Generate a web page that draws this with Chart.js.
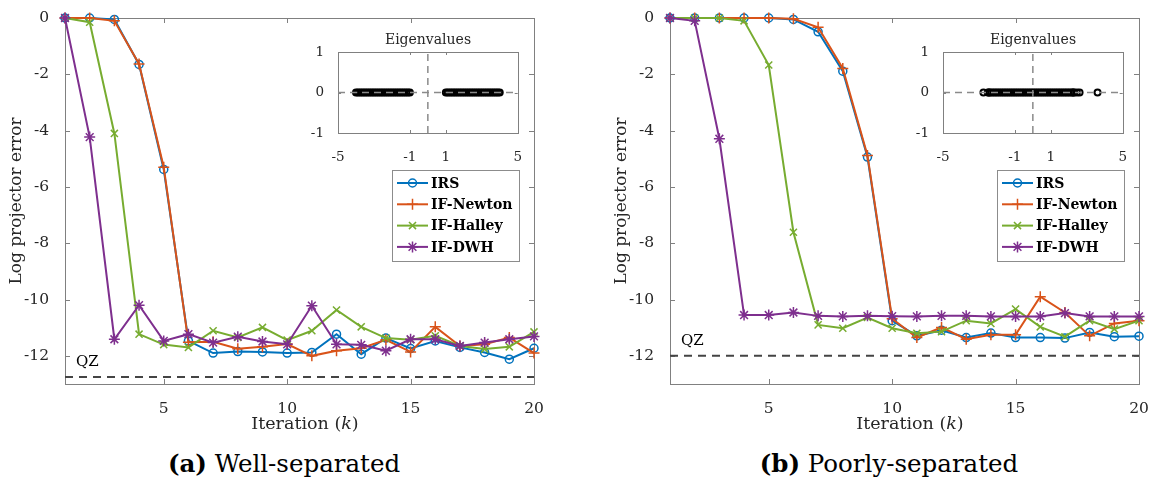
<!DOCTYPE html>
<html>
<head>
  <title>Projector error</title>
  <script src="https://cdn.jsdelivr.net/npm/chart.js"></script>
  <style>
    body { margin: 0; background: #fff; font-family: 'DejaVu Serif', serif; color: #262626; }
    .panel { position: absolute; top: 0; width: 560px; height: 485px; }
    .main { position: absolute; left: 0; top: 0; }
    .inset { position: absolute; left: 305px; top: 28px; }
    .eigTitle { position: absolute; left: 337px; top: 31px; width: 182px; text-align: center; font-size: 14px; }
    .xlabel { position: absolute; left: 65px; width: 480px; top: 413px; text-align: center; font-size: 17.5px; }
    .caption { position: absolute; left: 0; width: 568px; top: 449px; text-align: center; font-size: 24.5px; color: #000; }
  </style>
</head>
<body>
  <div class="panel" style="left:0px">
    <canvas id="mainA" class="main" width="560" height="440"></canvas>
    <canvas id="insetA" class="inset" width="225" height="135"></canvas>
    <div class="eigTitle">Eigenvalues</div>
    <div class="xlabel">Iteration (<i>k</i>)</div>
    <div class="caption"><b>(a)</b> Well-separated</div>
  </div>
  <div class="panel" style="left:605px">
    <canvas id="mainB" class="main" width="560" height="440"></canvas>
    <canvas id="insetB" class="inset" width="225" height="135"></canvas>
    <div class="eigTitle">Eigenvalues</div>
    <div class="xlabel">Iteration (<i>k</i>)</div>
    <div class="caption"><b>(b)</b> Poorly-separated</div>
  </div>
  <script>
    // iterations 1..20
    const iters = [1, 2, 3, 4, 5, 6, 7, 8, 9, 10, 11, 12, 13, 14, 15, 16, 17, 18, 19, 20];
    const xTicks = [5, 10, 15, 20];
    const yTicks = [0, -2, -4, -6, -8, -10, -12];

    // (a) well-separated
    const irsA    = [0, 0, -0.05, -1.65, -5.38, -11.47, -11.9, -11.85, -11.86, -11.9, -11.88, -11.23, -11.94, -11.37, -11.74, -11.47, -11.7, -11.88, -12.12, -11.73];
    const newtonA = [0, 0, -0.1, -1.63, -5.3, -11.52, -11.5, -11.75, -11.68, -11.58, -12.0, -11.82, -11.73, -11.43, -11.86, -10.97, -11.65, -11.59, -11.35, -11.9];
    const halleyA = [0, -0.15, -4.1, -11.23, -11.6, -11.7, -11.11, -11.35, -10.99, -11.44, -11.11, -10.37, -10.97, -11.37, -11.43, -11.29, -11.65, -11.76, -11.68, -11.15];
    const dwhA    = [0, -4.23, -11.41, -10.2, -11.47, -11.23, -11.53, -11.32, -11.49, -11.59, -10.22, -11.59, -11.61, -11.82, -11.41, -11.41, -11.65, -11.53, -11.41, -11.31];
    const qzA = -12.75;

    // (b) poorly-separated
    const irsB    = [0, 0, 0, 0, 0, -0.05, -0.49, -1.89, -4.94, -10.75, -11.29, -11.09, -11.35, -11.19, -11.35, -11.35, -11.37, -11.17, -11.32, -11.3];
    const newtonB = [0, 0, 0, 0, 0, -0.03, -0.33, -1.79, -4.88, -10.68, -11.35, -10.99, -11.41, -11.25, -11.25, -9.9, -10.46, -11.29, -10.85, -10.75];
    const halleyB = [0, 0, 0, -0.1, -1.67, -7.61, -10.9, -11.02, -10.64, -11.02, -11.2, -11.14, -10.75, -10.85, -10.34, -10.97, -11.32, -10.75, -11.05, -10.75];
    const dwhB    = [0, -0.1, -4.29, -10.55, -10.55, -10.46, -10.58, -10.6, -10.58, -10.59, -10.6, -10.58, -10.58, -10.6, -10.6, -10.6, -10.48, -10.6, -10.6, -10.6];
    const qzB = -12;

    // inset eigenvalues (real axis)
    const eigA = [-4.0, -3.9, -3.8, -3.7, -3.6, -3.5, -3.4, -3.3, -3.2, -3.1, -3.0, -2.9, -2.8, -2.7, -2.6, -2.5, -2.4, -2.3, -2.2, -2.1, -2.0,
                  -1.9, -1.8, -1.7, -1.6, -1.5, -1.4, -1.3, -1.2, -1.1, -1.0,
                  1.0, 1.1, 1.2, 1.3, 1.4, 1.5, 1.6, 1.7, 1.8, 1.9, 2.0, 2.1, 2.2, 2.3, 2.4, 2.5, 2.6, 2.7, 2.8, 2.9, 3.0,
                  3.1, 3.2, 3.3, 3.4, 3.5, 3.6, 3.7, 3.8, 3.9, 4.0];
    const eigB = [-2.75, -2.5, -2.45, -2.4, -2.3, -2.2, -2.1, -2.0, -1.9, -1.8, -1.7, -1.6, -1.5, -1.4, -1.3, -1.2, -1.1, -1.0,
                  -0.9, -0.8, -0.7, -0.6, -0.5, -0.4, -0.3, -0.2, -0.1, 0.0, 0.1, 0.2, 0.3, 0.4, 0.5, 0.6, 0.7, 0.8, 0.9,
                  1.0, 1.1, 1.2, 1.3, 1.4, 1.5, 1.6, 1.7, 1.8, 1.9, 2.0, 2.1, 2.2, 2.25, 2.3, 2.45, 2.6, 3.6];
    const eigXTicks = [-5, -1, 1, 5];
    const eigYTicks = [-1, 0, 1];

    const names = ['IRS', 'IF-Newton', 'IF-Halley', 'IF-DWH'];
    const colors = ['#0072BD', '#D95319', '#77AC30', '#7E2F8E'];
    const markers = ['circle', 'cross', 'crossRot', 'star'];
    const sizes = [4, 5.5, 5, 5.5];

    Chart.defaults.font.family = "'DejaVu Serif', serif";
    Chart.defaults.color = '#262626';

    // box with inward ticks, like matlab
    const frame = {
      id: 'frame',
      beforeDatasetsDraw(chart, args, o) {
        const { ctx, chartArea: a, scales } = chart;
        ctx.save();
        ctx.strokeStyle = o.color;
        ctx.lineWidth = 1;
        ctx.strokeRect(Math.round(a.left) + 0.5, Math.round(a.top) + 0.5, Math.round(a.right - a.left), Math.round(a.bottom - a.top));
        ctx.beginPath();
        scales.x.ticks.forEach(t => {
          const px = Math.round(scales.x.getPixelForValue(t.value)) + 0.5;
          ctx.moveTo(px, a.bottom); ctx.lineTo(px, a.bottom - o.len);
          ctx.moveTo(px, a.top); ctx.lineTo(px, a.top + o.len);
        });
        scales.y.ticks.forEach(t => {
          const py = Math.round(scales.y.getPixelForValue(t.value)) + 0.5;
          ctx.moveTo(a.left, py); ctx.lineTo(a.left + o.len, py);
          ctx.moveTo(a.right, py); ctx.lineTo(a.right - o.len, py);
        });
        ctx.stroke();
        ctx.restore();
      }
    };

    const legendBox = {
      id: 'legendBox',
      afterDraw(chart, args, o) {
        const ctx = chart.ctx;
        ctx.save();
        ctx.fillStyle = '#fff';
        ctx.fillRect(o.x, o.y, o.w, o.h);
        ctx.strokeStyle = '#8c8c8c';
        ctx.lineWidth = 1;
        ctx.strokeRect(o.x + 0.5, o.y + 0.5, o.w, o.h);
        ctx.font = "bold 14px 'DejaVu Serif'";
        ctx.textBaseline = 'middle';
        names.forEach((n, i) => {
          const y = o.y + 13 + i * 21.3;
          ctx.strokeStyle = colors[i];
          ctx.fillStyle = colors[i];
          ctx.lineWidth = 2;
          ctx.beginPath();
          ctx.moveTo(o.x + 5, y); ctx.lineTo(o.x + 36, y);
          ctx.stroke();
          ctx.lineWidth = 1.5;
          ctx.fillStyle = 'rgba(0,0,0,0)';
          Chart.helpers.drawPoint(ctx, { pointStyle: markers[i], radius: sizes[i], borderWidth: 1.5, rotation: 0 }, o.x + 20.5, y);
          ctx.fillStyle = '#000';
          ctx.fillText(n, o.x + 39, y + 1);
        });
        ctx.restore();
      }
    };

    const qzLabel = {
      id: 'qzLabel',
      afterDraw(chart, args, o) {
        const { ctx, chartArea: a, scales } = chart;
        ctx.save();
        ctx.font = "15px 'DejaVu Serif'";
        ctx.fillStyle = '#000';
        ctx.textBaseline = 'bottom';
        ctx.fillText('QZ', a.left + 11, scales.y.getPixelForValue(o.value) - 7);
        ctx.restore();
      }
    };

    function series(arr, i) {
      return {
        label: names[i],
        data: iters.map((k, j) => ({ x: k, y: arr[j] })),
        borderColor: colors[i],
        borderWidth: 2,
        pointStyle: markers[i],
        pointRadius: sizes[i],
        pointBorderWidth: 1.5,
        pointBorderColor: colors[i],
        pointBackgroundColor: 'rgba(0,0,0,0)',
        order: 4 - i,
        clip: false
      };
    }

    function makeMain(id, irs, newton, halley, dwh, qz) {
      return new Chart(document.getElementById(id), {
        type: 'line',
        data: {
          datasets: [
            series(irs, 0), series(newton, 1), series(halley, 2), series(dwh, 3),
            { label: 'QZ', data: [{ x: 1, y: qz }, { x: 20, y: qz }], borderColor: '#444', borderWidth: 2,
              borderDash: [8, 6], pointRadius: 0, order: 5 }
          ]
        },
        options: {
          responsive: false,
          animation: false,
          layout: { padding: { top: 18, right: 26, left: 0, bottom: 0 } },
          plugins: {
            legend: { display: false },
            tooltip: { enabled: false },
            frame: { color: '#808080', len: 5 },
            legendBox: { x: 392, y: 170, w: 127, h: 91 },
            qzLabel: { value: qz }
          },
          scales: {
            x: {
              type: 'linear', min: 1, max: 20,
              afterBuildTicks: s => { s.ticks = xTicks.map(v => ({ value: v })); },
              afterFit: s => { s.height = 56; },
              grid: { display: false }, border: { display: false },
              ticks: { padding: 8, font: { size: 15.5 } }
            },
            y: {
              type: 'linear', min: -13, max: 0,
              afterBuildTicks: s => { s.ticks = yTicks.map(v => ({ value: v })); },
              afterFit: s => { s.width = 65; },
              grid: { display: false }, border: { display: false },
              ticks: { padding: 8, font: { size: 15.5 } },
              title: { display: true, text: 'Log projector error', font: { size: 17 }, padding: { top: 6, bottom: 0 } }
            }
          }
        },
        plugins: [frame, legendBox, qzLabel]
      });
    }

    function makeInset(id, eig) {
      return new Chart(document.getElementById(id), {
        type: 'scatter',
        data: {
          datasets: [
            { data: [{ x: -5, y: 0 }, { x: 5, y: 0 }], showLine: true, borderColor: '#8a8a8a', borderWidth: 1.5,
              borderDash: [7, 5], pointRadius: 0, order: 0 },
            { data: [{ x: 0, y: -1 }, { x: 0, y: 1 }], showLine: true, borderColor: '#8a8a8a', borderWidth: 1.5,
              borderDash: [7, 5], pointRadius: 0, order: 0 },
            { data: eig.map(v => ({ x: v, y: 0 })), pointStyle: 'circle', pointRadius: 3,
              pointBorderWidth: 2, pointBorderColor: '#000', pointBackgroundColor: 'rgba(0,0,0,0)', order: 1, clip: false }
          ]
        },
        options: {
          responsive: false,
          animation: false,
          layout: { padding: { top: 24, right: 11, left: 0, bottom: 0 } },
          plugins: { legend: { display: false }, tooltip: { enabled: false }, frame: { color: '#808080', len: 3 } },
          scales: {
            x: {
              type: 'linear', min: -5, max: 5,
              afterBuildTicks: s => { s.ticks = eigXTicks.map(v => ({ value: v })); },
              afterFit: s => { s.height = 30; },
              grid: { display: false }, border: { display: false },
              ticks: { padding: 8, font: { size: 13.5 } }
            },
            y: {
              type: 'linear', min: -1, max: 1,
              afterBuildTicks: s => { s.ticks = eigYTicks.map(v => ({ value: v })); },
              afterFit: s => { s.width = 33; },
              grid: { display: false }, border: { display: false },
              ticks: { padding: 6, font: { size: 13.5 } }
            }
          }
        },
        plugins: [frame]
      });
    }

    makeMain('mainA', irsA, newtonA, halleyA, dwhA, qzA);
    makeMain('mainB', irsB, newtonB, halleyB, dwhB, qzB);
    makeInset('insetA', eigA);
    makeInset('insetB', eigB);
  </script>
</body>
</html>
